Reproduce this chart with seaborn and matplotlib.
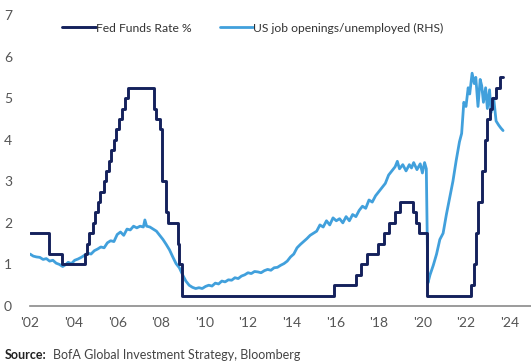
import matplotlib
matplotlib.use("Agg")
import matplotlib.pyplot as plt
import seaborn as sns
import pandas as pd

# Fed funds target rate (upper bound), change dates as fractional years
fed_dates = [2002.00, 2002.85, 2003.48, 2004.50, 2004.63, 2004.72, 2004.87, 2004.96,
             2005.10, 2005.22, 2005.38, 2005.50, 2005.63, 2005.72, 2005.87, 2005.96,
             2006.10, 2006.22, 2006.38, 2006.50, 2007.70, 2007.80, 2007.95, 2008.05,
             2008.22, 2008.33, 2008.78, 2008.83, 2008.96, 2015.96, 2016.96, 2017.20,
             2017.46, 2017.96, 2018.22, 2018.46, 2018.73, 2018.96, 2019.58, 2019.71,
             2019.83, 2020.20, 2022.21, 2022.38, 2022.46, 2022.57, 2022.72, 2022.87,
             2022.96, 2023.10, 2023.21, 2023.38, 2023.57, 2023.70]
fed_rate = [1.75, 1.25, 1.00, 1.25, 1.50, 1.75, 2.00, 2.25,
            2.50, 2.75, 3.00, 3.25, 3.50, 3.75, 4.00, 4.25,
            4.50, 4.75, 5.00, 5.25, 4.75, 4.50, 4.25, 3.00,
            2.25, 2.00, 1.50, 1.00, 0.25, 0.50, 0.75, 1.00,
            1.25, 1.50, 1.75, 2.00, 2.25, 2.50, 2.25, 2.00,
            1.75, 0.25, 0.50, 1.00, 1.75, 2.50, 3.25, 4.00,
            4.50, 4.75, 5.00, 5.25, 5.50, 5.50]

# US job openings / unemployed, in chart units
jobs_dates = [2002.00, 2002.15, 2002.30, 2002.45, 2002.60, 2002.75, 2002.90, 2003.05,
              2003.20, 2003.35, 2003.50, 2003.62, 2003.75, 2003.90, 2004.05, 2004.20,
              2004.35, 2004.50, 2004.65, 2004.80, 2004.95, 2005.10, 2005.25, 2005.40,
              2005.55, 2005.70, 2005.85, 2006.00, 2006.15, 2006.30, 2006.45, 2006.60,
              2006.75, 2006.90, 2007.05, 2007.20, 2007.27, 2007.35, 2007.50, 2007.65,
              2007.80, 2007.95, 2008.10, 2008.25, 2008.40, 2008.55, 2008.70, 2008.85,
              2009.00, 2009.15, 2009.30, 2009.45, 2009.60, 2009.75, 2009.90, 2010.05,
              2010.20, 2010.35, 2010.50, 2010.65, 2010.80, 2010.95, 2011.10, 2011.25,
              2011.40, 2011.55, 2011.70, 2011.85, 2012.00, 2012.15, 2012.30, 2012.45,
              2012.60, 2012.75, 2012.90, 2013.05, 2013.20, 2013.35, 2013.50, 2013.65,
              2013.80, 2013.95, 2014.10, 2014.25, 2014.40, 2014.55, 2014.70, 2014.85,
              2015.00, 2015.15, 2015.30, 2015.45, 2015.60, 2015.75, 2015.90, 2016.05,
              2016.20, 2016.35, 2016.50, 2016.65, 2016.80, 2016.95, 2017.10, 2017.25,
              2017.40, 2017.55, 2017.70, 2017.85, 2018.00, 2018.15, 2018.30, 2018.45,
              2018.60, 2018.75, 2018.85, 2018.95, 2019.10, 2019.25, 2019.40, 2019.50,
              2019.60, 2019.75, 2019.90, 2020.00, 2020.10, 2020.18, 2020.25, 2020.35,
              2020.50, 2020.65, 2020.80, 2020.95, 2021.10, 2021.25, 2021.40, 2021.55,
              2021.70, 2021.80, 2021.90, 2022.00, 2022.10, 2022.17, 2022.28, 2022.38,
              2022.45, 2022.55, 2022.65, 2022.72, 2022.80, 2022.90, 2022.98, 2023.08,
              2023.15, 2023.27, 2023.38, 2023.50, 2023.60, 2023.70]
jobs_ratio = [1.25, 1.20, 1.18, 1.17, 1.12, 1.14, 1.08, 1.10,
              1.03, 1.00, 0.95, 0.99, 1.05, 1.02, 1.10, 1.13,
              1.17, 1.22, 1.27, 1.25, 1.33, 1.37, 1.42, 1.40,
              1.52, 1.57, 1.55, 1.72, 1.78, 1.70, 1.85, 1.83,
              1.92, 1.88, 1.92, 1.90, 2.07, 1.92, 1.90, 1.85,
              1.80, 1.70, 1.60, 1.48, 1.35, 1.18, 1.02, 0.92,
              0.75, 0.60, 0.50, 0.45, 0.42, 0.44, 0.42, 0.47,
              0.50, 0.48, 0.55, 0.53, 0.60, 0.58, 0.63, 0.62,
              0.68, 0.66, 0.72, 0.75, 0.80, 0.78, 0.83, 0.82,
              0.80, 0.85, 0.88, 0.86, 0.92, 0.93, 0.98, 1.02,
              1.08, 1.18, 1.25, 1.40, 1.48, 1.55, 1.62, 1.70,
              1.75, 1.80, 1.95, 1.90, 2.05, 1.95, 2.12, 2.05,
              2.10, 2.00, 2.15, 2.05, 2.20, 2.15, 2.30, 2.40,
              2.35, 2.55, 2.50, 2.65, 2.75, 2.85, 2.95, 3.15,
              3.25, 3.35, 3.48, 3.30, 3.40, 3.25, 3.40, 3.32,
              3.45, 3.28, 3.42, 3.20, 3.45, 3.30, 0.55, 0.75,
              0.98, 1.25, 1.60, 1.75, 2.20, 2.60, 3.00, 3.50,
              3.95, 4.15, 4.90, 4.80, 5.25, 5.10, 5.60, 5.35,
              5.50, 4.80, 5.45, 5.30, 4.90, 5.25, 4.75, 5.20,
              4.65, 5.00, 4.45, 4.35, 4.28, 4.22]

year_ticks = list(range(2002, 2025, 2))
year_labels = ["'" + str(y)[2:] for y in year_ticks]
y_ticks = [0, 1, 2, 3, 4, 5, 6, 7]

NAVY = "#14215c"
SKY = "#41a0dc"
GREY = "#555555"

sns.set_theme(style="white")
plt.rcParams["font.family"] = ["Lato", "DejaVu Sans"]

fig = plt.figure(figsize=(5.31, 3.64), dpi=100)
ax = fig.add_axes([30 / 531, 58 / 364, 1 - 30 / 531, (306 - 15) / 364])

fed_df = pd.DataFrame({"date": fed_dates, "rate": fed_rate})
jobs_df = pd.DataFrame({"date": jobs_dates, "ratio": jobs_ratio})

sns.lineplot(data=fed_df, x="date", y="rate", ax=ax, color=NAVY, linewidth=2.1,
             drawstyle="steps-post", label="Fed Funds Rate %", zorder=3)
sns.lineplot(data=jobs_df, x="date", y="ratio", ax=ax, color=SKY, linewidth=2.0,
             label="US job openings/unemployed (RHS)", zorder=2)

ax.set_xlim(2002, 2002 + 501 / 21.8)
ax.set_ylim(0, 7)
ax.set_xticks(year_ticks)
ax.set_xticklabels(year_labels)
ax.set_yticks(y_ticks)
ax.set_xlabel("")
ax.set_ylabel("")
ax.tick_params(axis="both", length=0, labelsize=10, colors=GREY)
ax.tick_params(axis="x", pad=8)
ax.tick_params(axis="y", pad=13)

for side in ["top", "right", "left"]:
    ax.spines[side].set_visible(False)
ax.spines["bottom"].set_color("#8a8a8a")
ax.spines["bottom"].set_linewidth(1.2)

handles, labels = ax.get_legend_handles_labels()
ax.get_legend().remove()
fig.legend(handles, labels, loc="center", bbox_to_anchor=(253 / 531, 1 - 28 / 364),
           ncol=2, frameon=False, fontsize=8.7, handlelength=2.8, handletextpad=0.0,
           columnspacing=2.3, labelcolor="#333333")

fig.text(5 / 531, 9 / 364, "Source:", fontsize=9, fontweight="bold", color="#222222",
         va="center", ha="left")
fig.text(53 / 531, 9 / 364, "BofA Global Investment Strategy, Bloomberg", fontsize=9,
         color="#444444", va="center", ha="left")

fig.savefig("out.png", dpi=100)
